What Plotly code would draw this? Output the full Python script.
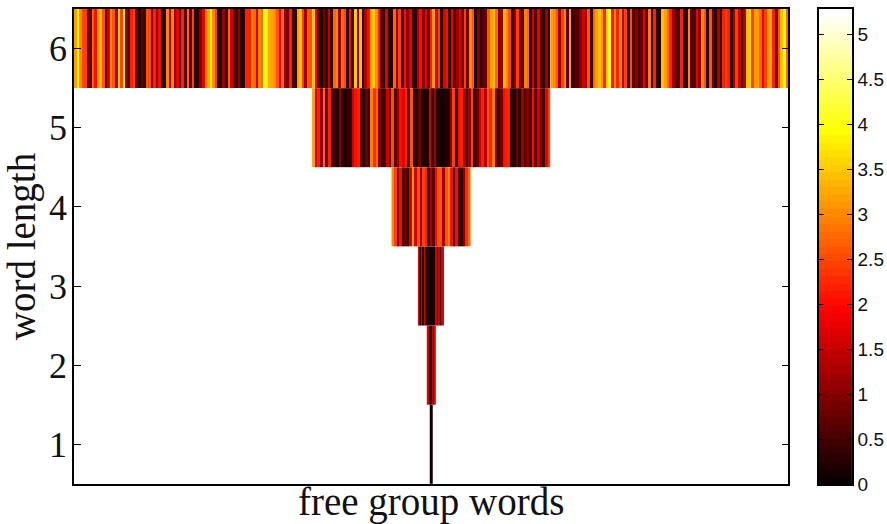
import plotly.graph_objects as go

row6_left = [3.2,3.9,3.0,2.5,2.4,0.9,0.6,2.7,2.0,3.2,3.4,2.6,0.8,1.6,3.0,2.6,1.3,3.7,2.4,3.8,1.0,0.5,2.2,2.5,0.9,0.2,0.7,0.3,2.6,2.5,1.0,2.2,1.0,2.0,0.2,0.2,3.0,1.4,3.0,1.2,1.8,0.6,2.2,0.6,2.8,0.6,2.4,0.2,0.3,1.0,1.8,2.9,3.3,3.8,3.0,2.4,0.2,0.2,1.2,0.3,2.8,1.6,0.7,0.4,1.1,0.2,0.3,2.2,2.2,3.0,2.8,1.6,3.0,2.8,4.0,3.8,3.3,3.2,3.0,2.6,1.8,2.8,1.2,0.9,2.2,0.4,0.4,3.2,3.5,2.4,1.2,2.6,2.6]
row6_mid = [3.4,1.8,0.7,0.2,0.9,0.3,1.5,0.4,2.8,3.0,1.2,2.8,2.5,0.3,2.0,0.3,3.5,1.0,3.4,0.2,1.4,2.0,3.2,3.5,3.0,2.2,0.7,0.2,1.7,0.2,0.3,2.8,1.2,2.4,0.4,2.0,1.0,1.8,0.4,0.2,1.4,2.0,1.0,1.8,0.7,2.2,3.2,1.6,2.4,0.2,1.7,2.0,0.3,1.8,0.5,1.2,1.8,0.7,2.4,0.9,3.0,2.6,0.2,1.0,0.3,0.6,0.9,2.6,3.2,3.4,2.8,1.0,1.2,3.4,3.0,2.5,0.3,1.1,2.4,1.0,0.6,2.9,2.8,0.2,1.6,0.5,1.8,0.8,0.3,1.2,0.3]
row6_right = [3.2,3.0,2.6,1.2,2.4,3.0,0.7,3.2,0.3,0.6,0.5,1.0,1.6,1.2,2.6,0.4,2.8,3.2,3.4,3.1,2.2,3.6,3.9,2.0,3.0,2.2,3.0,1.5,2.4,0.2,2.6,0.6,1.0,0.5,0.8,1.8,0.7,2.9,0.4,2.2,0.2,0.2,3.4,3.2,2.8,2.2,1.2,0.7,0.4,2.2,0.2,0.3,3.0,0.7,0.4,1.8,1.1,3.0,2.6,0.2,2.6,0.7,0.3,1.4,0.2,2.2,2.4,2.2,0.3,1.2,2.4,1.6,0.4,1.4,3.4,3.6,2.4,3.2,3.1,2.8,1.8,2.4,3.2,3.3,2.2,0.9,2.6,3.4,3.9,2.8]
row5 = [3.2,1.6,2.2,1.0,2.8,0.8,2.2,0.3,0.5,0.2,1.0,0.3,0.2,0.4,0.2,1.6,2.0,2.2,0.8,0.3,0.8,0.4,2.9,2.3,2.8,1.0,0.3,0.5,1.6,0.7,2.5,0.5,1.2,2.0,1.8,2.2,0.5,2.6,0.2,0.3,0.8,0.2,0.2,0.2,1.6,0.3,1.2,0.2,0.1,0.1,0.2,0.2,1.0,2.4,0.3,2.0,2.2,1.4,0.3,1.2,2.4,0.2,0.8,1.6,2.2,1.4,2.6,2.2,2.9,1.0,0.3,0.9,2.0,2.2,2.2,0.3,0.2,0.8,0.3,1.2,0.5,1.0,0.3,2.0,0.7,1.6,1.0,0.4,1.8,2.4]
row4 = [3.0,2.4,1.0,2.0,0.4,0.8,0.3,1.6,3.2,1.6,2.6,1.2,2.4,2.2,0.3,1.4,0.6,2.0,2.6,2.6,1.2,2.6,3.0,2.0,0.3,2.0,0.6,0.4,1.0,2.3,2.8]
row3 = [1.8,0.2,1.6,0.3,1.6,0.3,0.1,0.1,0.1,0.1,0.1,0.1,1.6,0.3,1.6,0.3,1.6,1.8]
row2 = [1.7,1.7,0.2,1.5,0.1,0.1,1.5,0.2,1.7,1.7]
row1 = [0.1,0.15,0.15,0.1]

word_lengths = [1, 2, 3, 4, 5, 6]
cbar_ticks = [0, 0.5, 1, 1.5, 2, 2.5, 3, 3.5, 4, 4.5, 5]
cbar_labels = ["0", "0.5", "1", "1.5", "2", "2.5", "3", "3.5", "4", "4.5", "5"]
z_max = 5.28
n_levels = 64


def hot(i):
    r = min(1, (i + 1) / 24)
    g = min(1, max(0, (i + 1 - 24) / 24))
    b = min(1, max(0, (i + 1 - 48) / 16))
    return f"rgb({round(r*255)},{round(g*255)},{round(b*255)})"


scale = []
for i in range(n_levels):
    scale.append([i / n_levels, hot(i)])
    scale.append([(i + 1) / n_levels, hot(i)])


def band(values, y, start, stop):
    dx = (stop - start) / len(values)
    return go.Heatmap(z=[values], x0=start + dx / 2, dx=dx, y0=y, dy=1,
                      coloraxis="coloraxis", hoverinfo="skip")


fig = go.Figure()
fig.add_trace(band(row6_left, 6, -486, -162))
fig.add_trace(band(row6_mid, 6, -162, 162))
fig.add_trace(band(row6_right, 6, 162, 486))
fig.add_trace(band(row5, 5, -162, 162))
fig.add_trace(band(row4, 4, -54, 54))
fig.add_trace(band(row3, 3, -18, 18))
fig.add_trace(band(row2, 2, -6, 6))
fig.add_trace(band(row1, 1, -2, 2))

levels = [(i + 0.5) * z_max / n_levels for i in range(n_levels)]
fig.add_trace(go.Heatmap(z=[[v] for v in levels], y=levels, x=[0], coloraxis="coloraxis",
                         xaxis="x2", yaxis="y2", hoverinfo="skip"))

serif = "Liberation Serif"
sans = "Liberation Sans"
fig.update_layout(
    width=887, height=524, autosize=False,
    margin=dict(l=74, r=35, t=9, b=39.5),
    paper_bgcolor="white", plot_bgcolor="white", showlegend=False,
    coloraxis=dict(colorscale=scale, cmin=0, cmax=z_max, showscale=False),
    xaxis=dict(domain=[0, 0.9183], range=[-486, 486], showticklabels=False, ticks="", automargin=False,
               showgrid=False, zeroline=False, showline=True, linecolor="black", linewidth=1.5,
               mirror=True,
               title=dict(text="free group words", font=dict(family=serif, size=39, color="#111"), standoff=8)),
    yaxis=dict(range=[0.5, 6.5], tickvals=word_lengths, ticks="inside", ticklen=7, tickwidth=1, automargin=False,
               tickcolor="black", showgrid=False, zeroline=False, showline=True, linecolor="black",
               linewidth=1.5, mirror="ticks", tickfont=dict(family=serif, size=36, color="#111"),
               ticklabelstandoff=-2,
               title=dict(text="word length", font=dict(family=serif, size=39, color="#111"), standoff=16)),
    xaxis2=dict(domain=[0.9575, 1], range=[-0.5, 0.5], showticklabels=False, ticks="", showgrid=False, automargin=False,
                zeroline=False, showline=True, linecolor="black", linewidth=1.5, mirror=True, anchor="y2"),
    yaxis2=dict(domain=[0, 1], range=[0, z_max], side="right", anchor="x2", tickvals=cbar_ticks, automargin=False,
                ticktext=cbar_labels, ticks="inside", ticklen=5, tickwidth=1, tickcolor="black",
                showgrid=False, zeroline=False, showline=True, linecolor="black", linewidth=1.5,
                mirror="ticks", tickfont=dict(family=sans, size=19, color="#111")),
)
fig.write_html("out.html", config={"displayModeBar": False},
               post_script="document.body.style.margin='0';document.documentElement.style.overflow='hidden';")
